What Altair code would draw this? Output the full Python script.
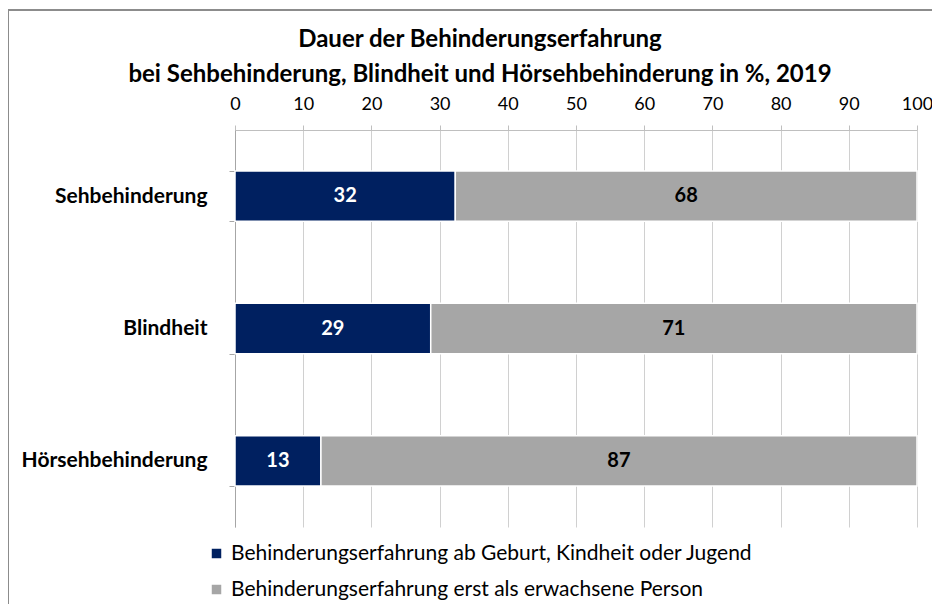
import altair as alt
import pandas as pd

categories = ["Sehbehinderung", "Blindheit", "Hörsehbehinderung"]
series = ["Behinderungserfahrung ab Geburt, Kindheit oder Jugend",
          "Behinderungserfahrung erst als erwachsene Person"]
val_early = [32.3, 28.7, 12.6]
val_adult = [67.7, 71.3, 87.4]
colors = ["#002060", "#A6A6A6"]
text_colors = ["#FFFFFF", "#000000"]

rows = []
for i, c in enumerate(categories):
    rows.append({"cat": c, "series": series[0], "value": val_early[i], "ord": 0, "tc": text_colors[0]})
    rows.append({"cat": c, "series": series[1], "value": val_adult[i], "ord": 1, "tc": text_colors[1]})
df = pd.DataFrame(rows)

FONT = "Lato"

y_enc = alt.Y("cat:N", sort=categories, title=None,
              scale=alt.Scale(paddingInner=0.62, paddingOuter=0.31),
              axis=alt.Axis(labelFontWeight="bold", labelFontSize=21, labelColor="#000000",
                            labelPadding=22, tickSize=6, tickBand="extent", labelLimit=400,
                            domainColor="#A6A6A6", tickColor="#A6A6A6", grid=False,
                            labelFont=FONT))

base = alt.Chart(df)

bars = base.mark_bar(stroke="white", strokeWidth=1.5).encode(
    x=alt.X("value:Q", stack="zero", title=None,
            scale=alt.Scale(domain=[0, 100], nice=False),
            axis=alt.Axis(orient="top", values=list(range(0, 101, 10)), labelFontSize=18,
                          labelColor="#000000", labelPadding=12, tickSize=5,
                          labelFlush=False,
                          domainColor="#BFBFBF", tickColor="#BFBFBF",
                          gridColor="#D0D0D0", grid=True, labelFont=FONT)),
    y=y_enc,
    color=alt.Color("series:N", sort=series,
                    scale=alt.Scale(domain=series, range=colors),
                    legend=alt.Legend(title=None, orient="none", legendX=-29, legendY=413,
                                      direction="vertical", symbolType="square",
                                      symbolSize=90, symbolStrokeWidth=0,
                                      labelFontSize=21, labelFont=FONT, labelColor="#000000",
                                      rowPadding=14, labelOffset=4, labelLimit=800)),
    order=alt.Order("ord:Q"),
)

labels = base.transform_stack(
    stack="value", groupby=["cat"], as_=["v0", "v1"], sort=[alt.SortField("ord")]
).transform_calculate(
    mid="(datum.v0 + datum.v1) / 2",
    lbl="format(datum.value, '.0f')"
).mark_text(fontWeight="bold", fontSize=20, font=FONT).encode(
    x=alt.X("mid:Q"),
    y=alt.Y("cat:N", sort=categories),
    text="lbl:N",
    color=alt.Color("tc:N", scale=None),
)

frame_left = alt.Chart(df).mark_rule(color="#8C8C8C", strokeWidth=1.5).encode(
    x=alt.value(-227), y=alt.value(-120), y2=alt.value(480))
frame_top = alt.Chart(df).mark_rule(color="#8C8C8C", strokeWidth=1.5).encode(
    x=alt.value(-227), x2=alt.value(700), y=alt.value(-120))

chart = alt.layer(bars, labels, frame_left, frame_top).properties(
    width=682, height=397,
    padding={"left": 227, "top": 122, "right": 15, "bottom": 77},
    autosize=alt.AutoSizeParams(type="none"),
    title=alt.TitleParams(
        text=["Dauer der Behinderungserfahrung",
              "bei Sehbehinderung, Blindheit und Hörsehbehinderung in %, 2019"],
        font=FONT, fontSize=24, fontWeight="bold", color="#000000",
        anchor="middle", dx=-96, lineHeight=35, offset=-78),
).configure_view(stroke=None)

chart.save("out.html", embed_options={"renderer": "svg", "actions": False})
